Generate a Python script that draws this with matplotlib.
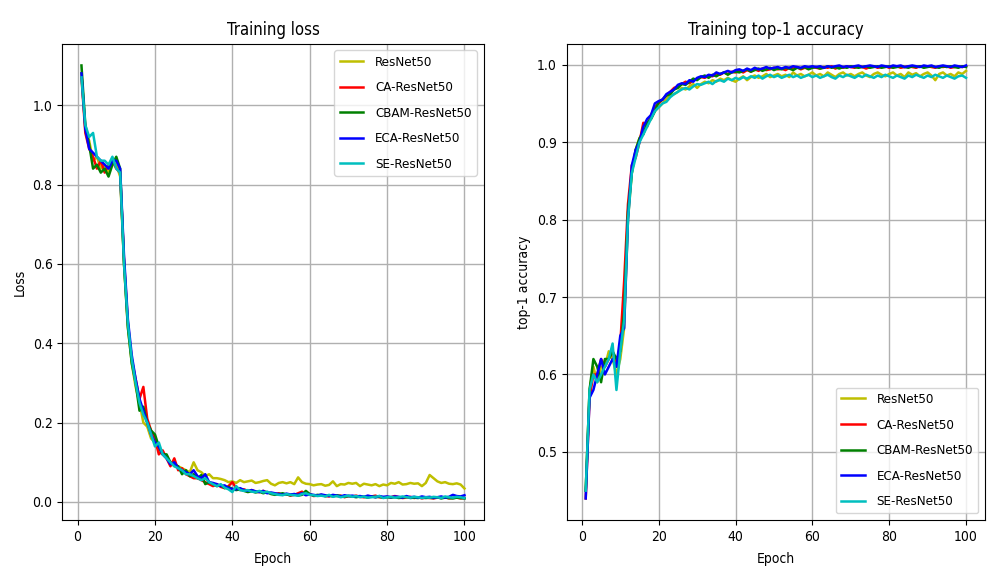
import matplotlib.pyplot as plt
import numpy as np

plt.rcParams['font.family'] = ['DejaVu Sans', 'Liberation Sans Narrow']
plt.rcParams['font.stretch'] = 'condensed'

epochs = np.arange(1, 101)
names = ["ResNet50", "CA-ResNet50", "CBAM-ResNet50", "ECA-ResNet50", "SE-ResNet50"]
colors = ["y", "r", "g", "b", "c"]

# training loss
loss_resnet = [1.08, 0.94, 0.91, 0.86, 0.87, 0.84, 0.85, 0.83, 0.86, 0.85,
               0.82, 0.60, 0.44, 0.35, 0.29, 0.25, 0.20, 0.19, 0.16, 0.15,
               0.13, 0.12, 0.11, 0.10, 0.09, 0.09, 0.085, 0.08, 0.075, 0.10,
               0.08, 0.075, 0.065, 0.07, 0.06, 0.06, 0.058, 0.055, 0.05, 0.052,
               0.048, 0.055, 0.05, 0.052, 0.054, 0.048, 0.05, 0.053, 0.055, 0.046,
               0.042, 0.048, 0.05, 0.047, 0.05, 0.045, 0.062, 0.05, 0.046, 0.045,
               0.042, 0.044, 0.045, 0.041, 0.043, 0.052, 0.04, 0.045, 0.044, 0.048,
               0.046, 0.048, 0.04, 0.046, 0.044, 0.042, 0.045, 0.04, 0.044, 0.042,
               0.048, 0.046, 0.05, 0.044, 0.045, 0.048, 0.046, 0.047, 0.04, 0.048,
               0.068, 0.06, 0.052, 0.048, 0.05, 0.046, 0.045, 0.047, 0.044, 0.034]
loss_ca = [1.07, 0.93, 0.89, 0.87, 0.84, 0.86, 0.83, 0.85, 0.86, 0.84,
           0.83, 0.61, 0.45, 0.36, 0.31, 0.26, 0.29, 0.21, 0.18, 0.16,
           0.12, 0.13, 0.11, 0.09, 0.11, 0.08, 0.085, 0.07, 0.065, 0.06,
           0.06, 0.055, 0.05, 0.045, 0.04, 0.045, 0.038, 0.035, 0.04, 0.05,
           0.035, 0.03, 0.032, 0.028, 0.03, 0.026, 0.025, 0.028, 0.024, 0.022,
           0.02, 0.022, 0.018, 0.02, 0.016, 0.018, 0.022, 0.026, 0.018, 0.02,
           0.015, 0.016, 0.018, 0.015, 0.014, 0.017, 0.015, 0.016, 0.012, 0.015,
           0.014, 0.016, 0.013, 0.012, 0.015, 0.014, 0.016, 0.012, 0.011, 0.013,
           0.012, 0.015, 0.012, 0.01, 0.011, 0.013, 0.01, 0.012, 0.009, 0.011,
           0.01, 0.009, 0.011, 0.01, 0.012, 0.009, 0.01, 0.011, 0.009, 0.01]
loss_cbam = [1.10, 0.95, 0.90, 0.84, 0.85, 0.83, 0.84, 0.82, 0.85, 0.87,
             0.84, 0.60, 0.44, 0.35, 0.30, 0.23, 0.24, 0.20, 0.18, 0.17,
             0.14, 0.12, 0.12, 0.10, 0.095, 0.09, 0.07, 0.08, 0.065, 0.07,
             0.06, 0.068, 0.045, 0.05, 0.045, 0.04, 0.042, 0.035, 0.038, 0.033,
             0.03, 0.032, 0.028, 0.025, 0.027, 0.024, 0.026, 0.022, 0.025, 0.02,
             0.018, 0.02, 0.022, 0.019, 0.017, 0.02, 0.016, 0.018, 0.028, 0.02,
             0.016, 0.018, 0.017, 0.015, 0.016, 0.014, 0.017, 0.015, 0.013, 0.015,
             0.014, 0.012, 0.014, 0.013, 0.011, 0.014, 0.012, 0.013, 0.011, 0.012,
             0.011, 0.012, 0.01, 0.011, 0.013, 0.01, 0.011, 0.01, 0.012, 0.01,
             0.011, 0.01, 0.012, 0.009, 0.011, 0.01, 0.009, 0.011, 0.01, 0.009]
loss_eca = [1.08, 0.94, 0.89, 0.88, 0.87, 0.86, 0.85, 0.84, 0.86, 0.86,
            0.84, 0.62, 0.46, 0.37, 0.31, 0.26, 0.23, 0.20, 0.17, 0.15,
            0.14, 0.12, 0.11, 0.095, 0.10, 0.085, 0.08, 0.075, 0.07, 0.08,
            0.065, 0.06, 0.07, 0.05, 0.048, 0.045, 0.04, 0.042, 0.035, 0.033,
            0.032, 0.035, 0.03, 0.028, 0.03, 0.027, 0.025, 0.028, 0.022, 0.024,
            0.022, 0.02, 0.018, 0.021, 0.019, 0.02, 0.018, 0.022, 0.017, 0.019,
            0.018, 0.016, 0.019, 0.017, 0.015, 0.018, 0.016, 0.014, 0.017, 0.015,
            0.016, 0.014, 0.015, 0.013, 0.016, 0.014, 0.012, 0.015, 0.013, 0.014,
            0.012, 0.014, 0.013, 0.011, 0.015, 0.012, 0.013, 0.011, 0.014, 0.012,
            0.013, 0.011, 0.012, 0.014, 0.011, 0.013, 0.018, 0.015, 0.014, 0.017]
loss_se = [1.07, 0.95, 0.92, 0.93, 0.87, 0.86, 0.86, 0.85, 0.87, 0.84,
           0.83, 0.60, 0.45, 0.36, 0.30, 0.25, 0.22, 0.20, 0.17, 0.14,
           0.15, 0.12, 0.11, 0.10, 0.09, 0.085, 0.08, 0.07, 0.07, 0.065,
           0.06, 0.055, 0.06, 0.05, 0.045, 0.04, 0.045, 0.036, 0.032, 0.025,
           0.04, 0.03, 0.028, 0.03, 0.026, 0.025, 0.028, 0.024, 0.026, 0.022,
           0.02, 0.018, 0.017, 0.02, 0.018, 0.017, 0.016, 0.02, 0.022, 0.018,
           0.017, 0.015, 0.016, 0.014, 0.018, 0.013, 0.015, 0.012, 0.014, 0.016,
           0.013, 0.015, 0.012, 0.014, 0.011, 0.012, 0.013, 0.015, 0.01, 0.012,
           0.013, 0.011, 0.012, 0.014, 0.012, 0.011, 0.013, 0.012, 0.01, 0.012,
           0.011, 0.013, 0.012, 0.01, 0.014, 0.012, 0.011, 0.013, 0.012, 0.01]

# training top-1 accuracy
acc_resnet = [0.45, 0.58, 0.61, 0.59, 0.61, 0.61, 0.63, 0.62, 0.60, 0.62,
              0.66, 0.80, 0.86, 0.89, 0.905, 0.915, 0.925, 0.93, 0.94, 0.945,
              0.95, 0.955, 0.96, 0.962, 0.965, 0.97, 0.968, 0.972, 0.975, 0.97,
              0.975, 0.978, 0.976, 0.98, 0.978, 0.982, 0.98, 0.983, 0.98, 0.978,
              0.982, 0.985, 0.98, 0.984, 0.986, 0.983, 0.985, 0.988, 0.984, 0.986,
              0.988, 0.985, 0.987, 0.984, 0.99, 0.986, 0.988, 0.985, 0.987, 0.99,
              0.986, 0.988, 0.985, 0.99, 0.987, 0.984, 0.988, 0.99, 0.986, 0.988,
              0.985, 0.988, 0.99, 0.986, 0.984, 0.988, 0.99, 0.987, 0.985, 0.988,
              0.99, 0.986, 0.988, 0.984, 0.99, 0.987, 0.989, 0.985, 0.988, 0.99,
              0.986, 0.98, 0.988, 0.99, 0.986, 0.988, 0.985, 0.99, 0.988, 0.992]
acc_ca = [0.44, 0.57, 0.60, 0.60, 0.62, 0.61, 0.62, 0.63, 0.61, 0.64,
          0.72, 0.82, 0.87, 0.88, 0.90, 0.925, 0.92, 0.935, 0.945, 0.95,
          0.955, 0.96, 0.965, 0.97, 0.972, 0.975, 0.978, 0.976, 0.98, 0.982,
          0.984, 0.983, 0.986, 0.985, 0.988, 0.987, 0.99, 0.988, 0.991, 0.99,
          0.992, 0.99, 0.993, 0.991, 0.994, 0.992, 0.995, 0.993, 0.994, 0.996,
          0.994, 0.995, 0.993, 0.996, 0.995, 0.997, 0.994, 0.996, 0.995, 0.997,
          0.996, 0.995, 0.997, 0.996, 0.998, 0.995, 0.997, 0.996, 0.998, 0.997,
          0.996, 0.998, 0.997, 0.995, 0.997, 0.998, 0.996, 0.997, 0.998, 0.996,
          0.997, 0.998, 0.996, 0.997, 0.998, 0.997, 0.996, 0.998, 0.997, 0.998,
          0.997, 0.996, 0.998, 0.997, 0.998, 0.996, 0.997, 0.998, 0.997, 0.998]
acc_cbam = [0.45, 0.58, 0.62, 0.61, 0.59, 0.62, 0.62, 0.63, 0.62, 0.63,
            0.68, 0.81, 0.86, 0.89, 0.905, 0.91, 0.925, 0.93, 0.94, 0.952,
            0.955, 0.96, 0.962, 0.968, 0.97, 0.975, 0.974, 0.978, 0.982, 0.98,
            0.984, 0.986, 0.983, 0.987, 0.985, 0.988, 0.99, 0.987, 0.99, 0.991,
            0.99, 0.992, 0.994, 0.991, 0.993, 0.995, 0.992, 0.994, 0.996, 0.993,
            0.995, 0.994, 0.996, 0.995, 0.993, 0.996, 0.995, 0.997, 0.994, 0.996,
            0.997, 0.995, 0.996, 0.998, 0.996, 0.997, 0.995, 0.997, 0.996, 0.998,
            0.997, 0.996, 0.997, 0.998, 0.996, 0.997, 0.998, 0.996, 0.997, 0.998,
            0.996, 0.997, 0.998, 0.997, 0.996, 0.998, 0.997, 0.998, 0.996, 0.997,
            0.998, 0.997, 0.996, 0.998, 0.997, 0.998, 0.997, 0.996, 0.998, 0.997]
acc_eca = [0.44, 0.57, 0.58, 0.60, 0.62, 0.60, 0.61, 0.62, 0.61, 0.65,
           0.66, 0.80, 0.87, 0.89, 0.90, 0.92, 0.93, 0.935, 0.95, 0.953,
           0.955, 0.962, 0.965, 0.968, 0.974, 0.976, 0.975, 0.98, 0.978, 0.983,
           0.985, 0.984, 0.987, 0.986, 0.99, 0.988, 0.99, 0.992, 0.99, 0.993,
           0.994, 0.992, 0.995, 0.993, 0.996, 0.994, 0.995, 0.997, 0.995, 0.996,
           0.997, 0.995, 0.997, 0.996, 0.998, 0.997, 0.996, 0.998, 0.997, 0.998,
           0.997, 0.998, 0.996, 0.998, 0.997, 0.998, 0.999, 0.997, 0.998, 0.997,
           0.998, 0.999, 0.997, 0.998, 0.999, 0.998, 0.997, 0.999, 0.998, 0.997,
           0.999, 0.998, 0.999, 0.997, 0.998, 0.999, 0.998, 0.997, 0.999, 0.998,
           0.999, 0.997, 0.998, 0.999, 0.998, 0.997, 0.999, 0.998, 0.997, 0.999]
acc_se = [0.45, 0.58, 0.60, 0.59, 0.60, 0.61, 0.62, 0.64, 0.58, 0.63,
          0.67, 0.80, 0.86, 0.88, 0.90, 0.91, 0.92, 0.93, 0.94, 0.945,
          0.95, 0.952, 0.958, 0.962, 0.965, 0.968, 0.97, 0.968, 0.972, 0.975,
          0.974, 0.976, 0.978, 0.975, 0.979, 0.98, 0.978, 0.982, 0.98, 0.983,
          0.981, 0.984, 0.982, 0.985, 0.983, 0.986, 0.982, 0.985, 0.987, 0.984,
          0.986, 0.983, 0.985, 0.987, 0.984, 0.986, 0.983, 0.985, 0.987, 0.984,
          0.986, 0.983, 0.985, 0.987, 0.984, 0.982, 0.986, 0.984, 0.987, 0.985,
          0.983, 0.986, 0.984, 0.987, 0.985, 0.983, 0.986, 0.984, 0.987, 0.985,
          0.983, 0.986, 0.984, 0.982, 0.986, 0.984, 0.987, 0.985, 0.983, 0.986,
          0.984, 0.987, 0.985, 0.983, 0.986, 0.984, 0.982, 0.985, 0.986, 0.983]

losses = [loss_resnet, loss_ca, loss_cbam, loss_eca, loss_se]
accs = [acc_resnet, acc_ca, acc_cbam, acc_eca, acc_se]

fig = plt.figure(figsize=(9.89, 5.69), dpi=100)
ax1 = fig.add_axes([0.063, 0.086, 0.426, 0.837])
ax2 = fig.add_axes([0.573, 0.086, 0.423, 0.837])

leg_kw = dict(fontsize=9.5, labelspacing=0.95, handlelength=1.8, handletextpad=0.9)

for y, c, n in zip(losses, colors, names):
    ax1.plot(epochs, y, color=c, label=n, linewidth=1.8)
ax1.set_title("Training loss", fontsize=12)
ax1.set_xlabel("Epoch", fontsize=10, labelpad=6)
ax1.set_ylabel("Loss", fontsize=10)
ax1.grid(True, linewidth=1.0)
ax1.legend(loc="upper right", **leg_kw)

for y, c, n in zip(accs, colors, names):
    ax2.plot(epochs, y, color=c, label=n, linewidth=1.8)
ax2.set_title("Training top-1 accuracy", fontsize=12)
ax2.set_xlabel("Epoch", fontsize=10, labelpad=6)
ax2.set_ylabel("top-1 accuracy", fontsize=10)
ax2.grid(True, linewidth=1.0)
ax2.legend(loc="lower right", **leg_kw)

for ax in (ax1, ax2):
    ax.tick_params(labelsize=10)

plt.savefig("out.png")
